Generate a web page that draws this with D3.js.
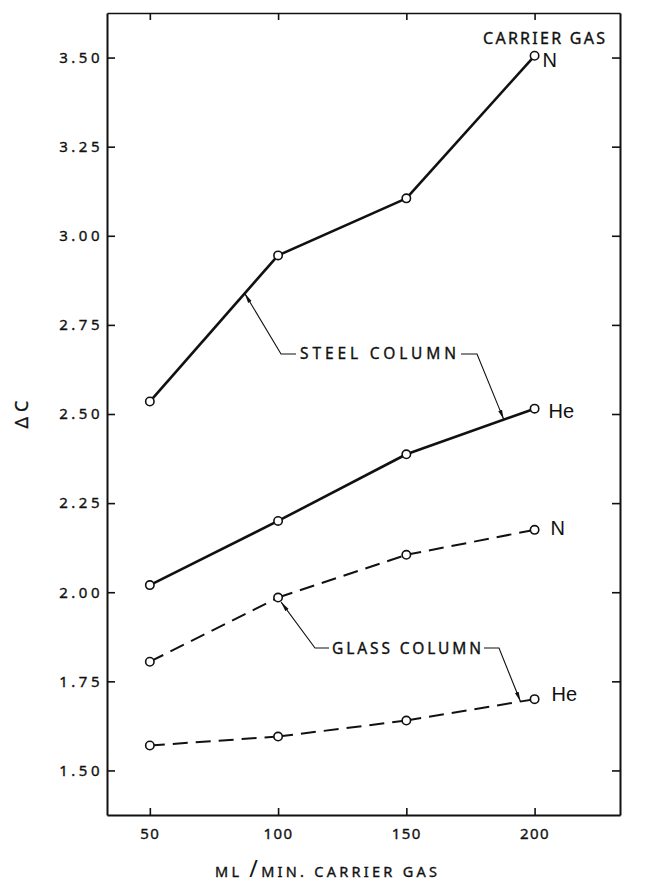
<!DOCTYPE html>
<html>
<head>
<meta charset="utf-8">
<script src="https://cdn.jsdelivr.net/npm/d3@7"></script>
<style>
  body { margin: 0; background: #fff; }
  svg { display: block; }
  .lettering { font-family: "Noto Sans", "DejaVu Sans", sans-serif; fill: #111; stroke: #111; stroke-width: 0.35; }
  .gas-label { font-family: "Liberation Sans", Arial, sans-serif; fill: #111; }
</style>
</head>
<body>
<svg id="chart" width="646" height="883"></svg>
<script>
// Carrier-gas flow rate (ml/min) at which each column was measured
const flowRates = [50, 100, 150, 200];

// ΔC readings per column / carrier gas
const steelNitrogen = [2.535, 2.945, 3.105, 3.505];
const steelHelium   = [2.02, 2.20, 2.387, 2.515];
const glassNitrogen = [1.805, 1.985, 2.105, 2.175];
const glassHelium   = [1.57, 1.595, 1.64, 1.70];

// Axis ticks
const xTickValues = [50, 100, 150, 200];
const yTickValues = [1.50, 1.75, 2.00, 2.25, 2.50, 2.75, 3.00, 3.25, 3.50];

// Text
const xAxisTitle = ["ML ", "/", "MIN. CARRIER GAS"];
const yAxisTitle = "ΔC";
const legendTitle = "CARRIER GAS";
const steelLabel = "STEEL COLUMN";
const glassLabel = "GLASS COLUMN";

const series = [
  { values: steelNitrogen, gas: "N",  column: "steel" },
  { values: steelHelium,   gas: "He", column: "steel" },
  { values: glassNitrogen, gas: "N",  column: "glass" },
  { values: glassHelium,   gas: "He", column: "glass" }
];

// Offset of each gas label from its last point (px)
const gasLabelOffset = [[8, 5.5], [14, 4.5], [16, -0.5], [17, -3.5]];

const svg = d3.select("#chart");
const frame = { left: 107, right: 620, top: 13, bottom: 815 };

const x = d3.scaleLinear().domain([33.3, 233.3]).range([frame.left, frame.right]);
const y = d3.scaleLinear().domain([1.375, 3.625]).range([frame.bottom, frame.top]);

// ---- Frame with inward ticks on all four sides ----
function styleAxis(g) {
  g.select(".domain").attr("stroke", "#111").attr("stroke-width", 2);
  g.selectAll(".tick line").attr("stroke", "#111").attr("stroke-width", 1.6);
}

svg.append("g")
  .attr("transform", `translate(${frame.left},0)`)
  .call(d3.axisLeft(y).tickValues(yTickValues).tickSize(-8).tickSizeOuter(0)
        .tickPadding(4).tickFormat(d3.format(".2f")))
  .call(styleAxis)
  .call(g => g.selectAll("text")
      .attr("class", "lettering")
      .attr("font-size", 15)
      .attr("letter-spacing", 3.5));

svg.append("g")
  .attr("transform", `translate(${frame.right},0)`)
  .call(d3.axisRight(y).tickValues(yTickValues).tickSize(-8).tickSizeOuter(0).tickFormat(""))
  .call(styleAxis);

svg.append("g")
  .attr("transform", `translate(0,${frame.bottom})`)
  .call(d3.axisBottom(x).tickValues(xTickValues).tickSize(-7).tickSizeOuter(0).tickPadding(13))
  .call(styleAxis)
  .call(g => g.selectAll("text")
      .attr("class", "lettering")
      .attr("font-size", 15)
      .attr("letter-spacing", 1.5));

svg.append("g")
  .attr("transform", `translate(0,${frame.top})`)
  .call(d3.axisTop(x).tickValues(xTickValues).tickSize(-7).tickSizeOuter(0).tickFormat(""))
  .call(styleAxis)
  .call(g => g.select(".domain").attr("stroke-width", 1.5));

svg.selectAll(".tick text").attr("fill", "#111").style("font-family", '"Noto Sans", "DejaVu Sans", sans-serif');

// ---- Axis titles ----
const xt = svg.append("text")
  .attr("class", "lettering")
  .attr("x", 215).attr("y", 877)
  .attr("font-size", 14.5)
  .attr("textLength", 222)
  .attr("lengthAdjust", "spacing");
xt.append("tspan").text(xAxisTitle[0]);
xt.append("tspan").attr("font-size", 23).attr("stroke-width", 0).text(xAxisTitle[1]);
xt.append("tspan").text(xAxisTitle[2]);

svg.append("text")
  .attr("class", "lettering")
  .attr("transform", "translate(28,412) rotate(-90)")
  .attr("text-anchor", "middle")
  .attr("font-size", 18)
  .attr("letter-spacing", 5)
  .text(yAxisTitle);

svg.append("text")
  .attr("class", "lettering")
  .attr("x", 483).attr("y", 44)
  .attr("font-size", 16)
  .attr("textLength", 122)
  .attr("lengthAdjust", "spacing")
  .text(legendTitle);

// ---- Series lines and points ----
const pts = s => s.values.map((v, i) => [x(flowRates[i]), y(v)]);

series.forEach((s, si) => {
  const p = pts(s);
  const g = svg.append("g");
  for (let i = 0; i < p.length - 1; i++) {
    g.append("path")
      .attr("d", d3.line()([p[i], p[i + 1]]))
      .attr("fill", "none")
      .attr("stroke", "#111")
      .attr("stroke-width", s.column === "steel" ? 2.6 : 2)
      .attr("stroke-dasharray", s.column === "steel" ? null : "15,8");
  }
  g.selectAll("circle")
    .data(p)
    .join("circle")
    .attr("cx", d => d[0]).attr("cy", d => d[1])
    .attr("r", 4.2)
    .attr("fill", "#fff")
    .attr("stroke", "#111")
    .attr("stroke-width", 1.6);

  const last = p[p.length - 1];
  svg.append("text")
    .attr("class", "gas-label")
    .attr("x", last[0] + gasLabelOffset[si][0])
    .attr("y", last[1] + gasLabelOffset[si][1])
    .attr("dominant-baseline", "middle")
    .attr("font-size", 20)
    .text(s.gas);
});

// ---- Column call-outs with leader arrows ----
svg.append("defs").append("marker")
  .attr("id", "arrow")
  .attr("viewBox", "0 -3 10 6")
  .attr("refX", 10).attr("refY", 0)
  .attr("markerWidth", 10).attr("markerHeight", 6)
  .attr("markerUnits", "userSpaceOnUse")
  .attr("orient", "auto")
  .append("path")
  .attr("d", "M0,-2L10,0L0,2Z")
  .attr("fill", "#111");

// point on a series polyline at a given flow rate
function onSeries(values, flow) {
  const i = Math.min(flowRates.length - 2, d3.bisectRight(flowRates, flow) - 1);
  const t = (flow - flowRates[i]) / (flowRates[i + 1] - flowRates[i]);
  return [x(flow), y(values[i] + t * (values[i + 1] - values[i]))];
}

function leader(from, corner, tip) {
  svg.append("path")
    .attr("d", d3.line()([from, corner, tip]))
    .attr("fill", "none")
    .attr("stroke", "#111")
    .attr("stroke-width", 1.1)
    .attr("marker-end", "url(#arrow)");
}

svg.append("text")
  .attr("class", "lettering")
  .attr("x", 300).attr("y", 359)
  .attr("font-size", 15.5)
  .attr("textLength", 156)
  .attr("lengthAdjust", "spacing")
  .text(steelLabel);
leader([296, 354], [281, 354], onSeries(steelNitrogen, 87));
leader([461, 354], [477, 354], onSeries(steelHelium, 188));

svg.append("text")
  .attr("class", "lettering")
  .attr("x", 332).attr("y", 654)
  .attr("font-size", 15.5)
  .attr("textLength", 149)
  .attr("lengthAdjust", "spacing")
  .text(glassLabel);
{
  const c = [x(flowRates[1]), y(glassNitrogen[1])];
  leader([329, 648], [315, 648], [c[0] + 3, c[1] + 4.5]);
}
leader([484, 648], [499, 648], onSeries(glassHelium, 194.5));
</script>
</body>
</html>
